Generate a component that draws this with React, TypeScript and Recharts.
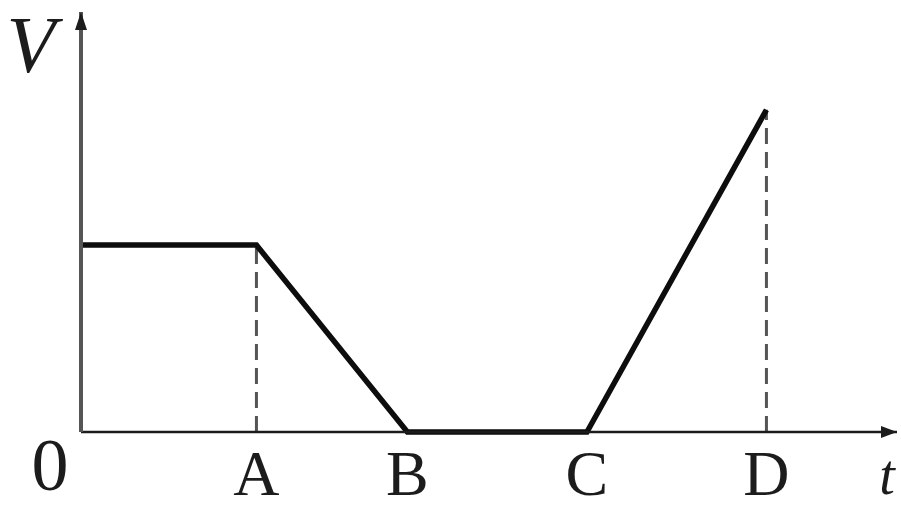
import { LineChart, Line, XAxis, YAxis, ReferenceLine, ReferenceDot } from "recharts";

// time marks on the t axis (arbitrary units)
const tickValues = [0, 2.15, 4.0, 6.2, 8.4];
const tickLabels = ["0", "A", "B", "C", "D"];
// V at each corner of the graph
const tPoints = [0, 2.15, 4.0, 6.2, 8.4];
const vPoints = [4.45, 4.45, 0, 0, 7.67];
// dashed drop lines (t, top V)
const dropT = [2.15, 8.4];
const dropV = [4.45, 7.67];

const data = tPoints.map((t, i) => ({ t, v: vPoints[i] }));
const FONT = "'Liberation Serif', 'DejaVu Serif', serif";
const INK = "#1c1c1c";

const Tick = ({ x, y, payload }: any) => {
  const i = tickValues.indexOf(payload.value);
  const label = tickLabels[i];
  if (label === "0") {
    return <text x={x - 31} y={y + 50} textAnchor="middle" fontFamily={FONT} fontSize={74} fill={INK}>{label}</text>;
  }
  return <text x={x} y={y + 55} textAnchor="middle" fontFamily={FONT} fontSize={64} fill={INK}>{label}</text>;
};

const ArrowRight = ({ cx, cy }: any) => (
  <g>
    <polygon points={`${cx},${cy} ${cx - 16},${cy - 6} ${cx - 16},${cy + 6}`} fill={INK} />
    <text x={cx - 10} y={cy + 62} textAnchor="middle" fontFamily={FONT} fontStyle="italic" fontSize={56} fill={INK}>t</text>
  </g>
);

const ArrowUp = ({ cx, cy }: any) => (
  <g>
    <polygon points={`${cx},${cy} ${cx - 6},${cy + 18} ${cx + 6},${cy + 18}`} fill={INK} />
    <text x={cx - 50} y={cy + 60} textAnchor="middle" fontFamily={FONT} fontStyle="italic" fontSize={80} fill={INK}>V</text>
  </g>
);

export default function App() {
  return (
    <div style={{ position: "fixed", left: 0, top: 0, background: "#fff" }}>
      <LineChart width={901} height={510} data={data} margin={{ top: 12, right: 4, left: 21, bottom: 0 }}>
        <XAxis
          dataKey="t"
          type="number"
          domain={[0, 10]}
          ticks={tickValues}
          interval={0}
          tick={<Tick />}
          tickLine={false}
          height={78}
          axisLine={{ stroke: INK, strokeWidth: 2.5 }}
        />
        <YAxis type="number" domain={[0, 10]} width={60} tick={false} tickLine={false} axisLine={{ stroke: "#555", strokeWidth: 4 }} />
        {dropT.map((t, i) => (
          <ReferenceLine
            key={t}
            segment={[{ x: t, y: 0 }, { x: t, y: dropV[i] }]}
            stroke="#555"
            strokeWidth={3}
            strokeDasharray="16 8"
          />
        ))}
        <Line
          dataKey="v"
          stroke="#0d0d0d"
          strokeWidth={5.5}
          dot={false}
          activeDot={false}
          strokeLinejoin="miter"
          isAnimationActive={false}
        />
        <ReferenceDot x={10} y={0} r={0} ifOverflow="visible" shape={<ArrowRight />} />
        <ReferenceDot x={0} y={10} r={0} ifOverflow="visible" shape={<ArrowUp />} />
      </LineChart>
    </div>
  );
}
